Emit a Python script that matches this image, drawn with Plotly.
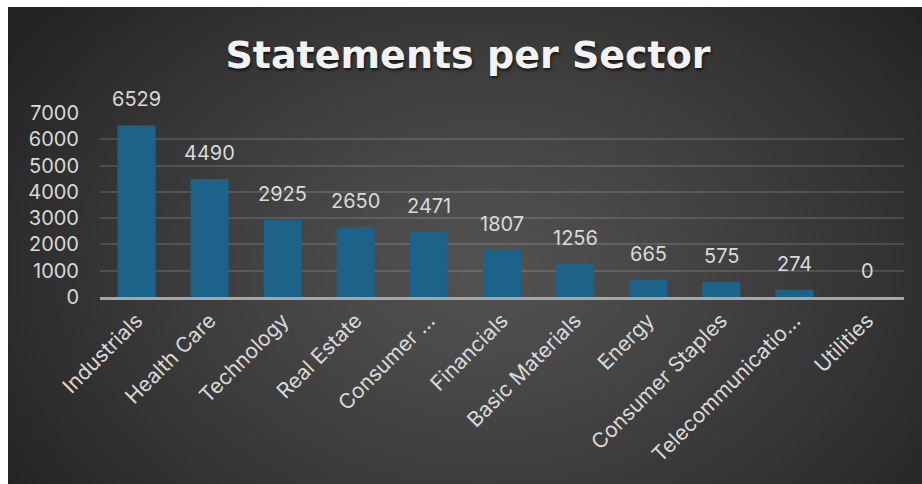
import base64, struct, zlib
import numpy as np
import plotly.graph_objects as go

# ---- data ----
categories = ["Industrials", "Health Care", "Technology", "Real Estate",
              "Consumer Discretionary", "Financials", "Basic Materials", "Energy",
              "Consumer Staples", "Telecommunications", "Utilities"]
tick_labels = ["Industrials", "Health Care", "Technology", "Real Estate",
               "Consumer …", "Financials", "Basic Materials", "Energy",
               "Consumer Staples", "Telecommunicatio…", "Utilities"]
statements = [6529, 4490, 2925, 2650, 2471, 1807, 1256, 665, 575, 274, 0]
y_ticks = [0, 1000, 2000, 3000, 4000, 5000, 6000, 7000]

# ---- page geometry ----
W, H = 922, 484
PL, PR, PT, PB = 100, 904, 113, 297     # plot area in px
BG_X0, BG_Y0 = 8, 7                      # dark panel starts here


def radial_png(w, h, inner=(0x52, 0x52, 0x52), outer=(0x24, 0x24, 0x24)):
    yy, xx = np.mgrid[0:h, 0:w].astype(float)
    cx, cy = w * 0.52, h * 0.55
    r = np.sqrt(((xx - cx) / (w * 0.62)) ** 2 + ((yy - cy) / (h * 0.85)) ** 2)
    t = np.clip(r, 0, 1) ** 1.2
    img = np.zeros((h, w, 3), dtype=np.uint8)
    for c in range(3):
        img[..., c] = (inner[c] + (outer[c] - inner[c]) * t).astype(np.uint8)
    raw = b"".join(b"\x00" + img[i].tobytes() for i in range(h))

    def chunk(tag, data):
        return (struct.pack(">I", len(data)) + tag + data +
                struct.pack(">I", zlib.crc32(tag + data) & 0xffffffff))
    png = (b"\x89PNG\r\n\x1a\n" +
           chunk(b"IHDR", struct.pack(">IIBBBBB", w, h, 8, 2, 0, 0, 0)) +
           chunk(b"IDAT", zlib.compress(raw, 9)) + chunk(b"IEND", b""))
    return "data:image/png;base64," + base64.b64encode(png).decode()


bg = radial_png(W - BG_X0, H - BG_Y0)
pw, ph = PR - PL, PB - PT

txt_color = "#d9d9d9"
font_family = "Inter, 'Open Sans', sans-serif"

fig = go.Figure()
fig.add_trace(go.Bar(
    x=categories, y=statements,
    marker=dict(color="#1d6389", line=dict(width=0)),
    width=0.52,
    hoverinfo="x+y",
))

annotations = []
for c, v in zip(categories, statements):
    annotations.append(dict(x=c, y=v, xref="x", yref="y", text=str(v),
                            showarrow=False, yanchor="bottom", yshift=12,
                            font=dict(size=20, color=txt_color, family=font_family)))

fig.update_layout(
    width=W, height=H,
    margin=dict(l=PL, r=W - PR, t=PT, b=H - PB, autoexpand=False),
    paper_bgcolor="white",
    plot_bgcolor="rgba(0,0,0,0)",
    showlegend=False,
    title=dict(text="<b>Statements per Sector</b>", x=468 / W, xref="container",
               y=1 - 55 / H, yref="container", xanchor="center", yanchor="middle",
               font=dict(size=38, color="#f2f2f2", family="'DejaVu Sans', sans-serif",
                         shadow="1px 2px 3px rgba(0,0,0,0.7)")),
    images=[dict(source=bg, xref="paper", yref="paper",
                 x=(BG_X0 - PL) / pw, y=(PB - BG_Y0) / ph,
                 sizex=(W - BG_X0) / pw, sizey=(H - BG_Y0) / ph,
                 xanchor="left", yanchor="top", sizing="stretch", layer="below")],
    annotations=annotations,
    xaxis=dict(tickmode="array", tickvals=categories, ticktext=tick_labels,
               tickangle=-45, tickfont=dict(size=21, color=txt_color, family=font_family),
               showline=True, linecolor="#a6a6a6", linewidth=3, ticks="",
               showgrid=False),
    yaxis=dict(range=[0, 7000], tickvals=y_ticks,
               tickfont=dict(size=20, color=txt_color, family=font_family),
               showgrid=True, gridcolor="rgba(255,255,255,0.13)", gridwidth=1.5,
               zeroline=False, ticks="", ticklabelstandoff=20),
)

fig.write_html("out.html")
